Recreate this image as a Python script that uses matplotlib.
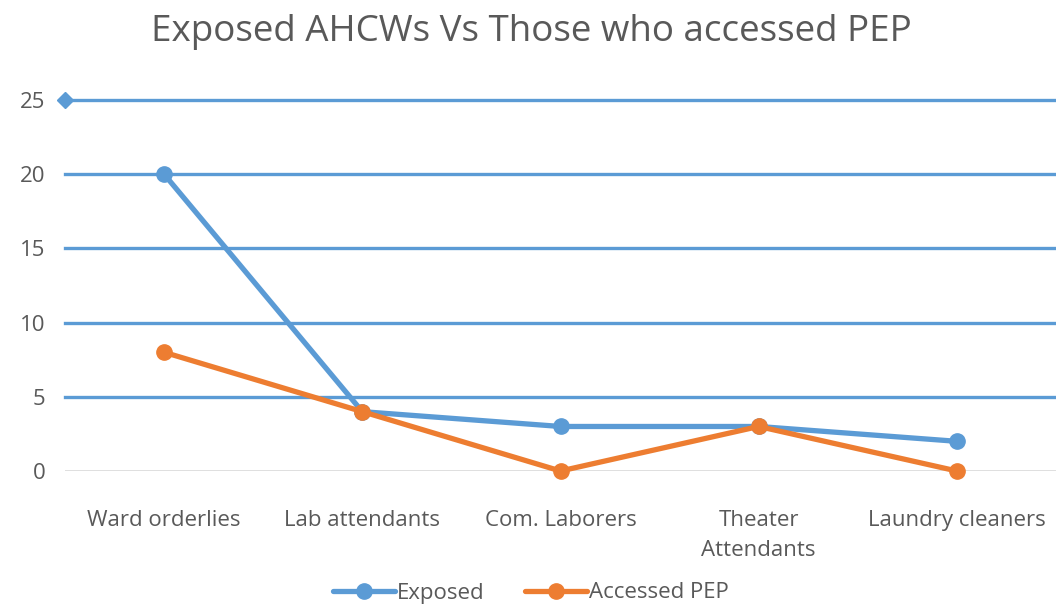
import matplotlib
matplotlib.use('Agg')
import matplotlib.pyplot as plt

plt.rcParams['font.family'] = ['Open Sans', 'DejaVu Sans']

categories = ['Ward orderlies', 'Lab attendants', 'Com. Laborers',
              'Theater\nAttendants', 'Laundry cleaners']
exposed = [20, 4, 3, 3, 2]
accessed_pep = [8, 4, 0, 3, 0]
y_ticks = [0, 5, 10, 15, 20, 25]

blue = '#5B9BD5'
orange = '#ED7D31'
grey_text = '#595959'

fig = plt.figure(figsize=(10.56, 6.06), dpi=100)
ax = fig.add_axes([65 / 1056, (606 - 471) / 606, 1 - 65 / 1056, (471 - 100) / 606])

x = list(range(len(categories)))

# gridlines: zero line light grey, the rest blue as in the original
ax.axhline(0, color='#D9D9D9', lw=1.2, zorder=1)
for t in y_ticks[1:]:
    ax.axhline(t, color=blue, lw=2.4, zorder=1, clip_on=False)
ax.plot([-0.5], [25], marker='D', color=blue, ms=8, clip_on=False, zorder=3)

ax.plot(x, exposed, color=blue, lw=3.8, marker='o', ms=11, clip_on=False,
        label='Exposed', zorder=3, solid_capstyle='round')
ax.plot(x, accessed_pep, color=orange, lw=3.8, marker='o', ms=11, clip_on=False,
        label='Accessed PEP', zorder=4, solid_capstyle='round')

ax.set_xlim(-0.5, 4.5)
ax.set_ylim(0, 25)
ax.set_yticks(y_ticks)
ax.set_xticks(x)
ax.set_xticklabels(categories, fontsize=16, color=grey_text, linespacing=1.55)
ax.tick_params(axis='y', labelsize=16, labelcolor=grey_text, length=0, pad=14)
ax.tick_params(axis='x', length=0, pad=28)
for s in ax.spines.values():
    s.set_visible(False)

fig.suptitle('Exposed AHCWs Vs Those who accessed PEP', fontsize=26.5,
             color=grey_text, x=531 / 1056, y=1 - 32 / 606, va='center')

fig.legend(loc='center', bbox_to_anchor=(531 / 1056, 1 - 593 / 606), ncol=2,
           frameon=False, fontsize=16, labelcolor=grey_text, handlelength=2.8,
           handletextpad=0.1, columnspacing=1.8, borderaxespad=0)

fig.savefig('out.png', dpi=100)
